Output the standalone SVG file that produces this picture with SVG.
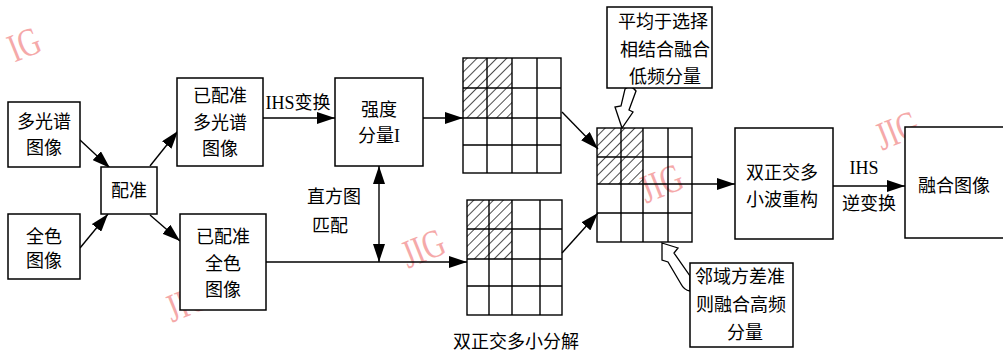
<svg xmlns="http://www.w3.org/2000/svg" width="1003" height="354" viewBox="0 0 1003 354">
<style>
.box{fill:#fff;stroke:#000;stroke-width:1.5}
.ln{fill:none;stroke:#000;stroke-width:1.4}
.t{font-family:"Liberation Serif","Noto Sans CJK SC",serif;font-size:18px;fill:#000;text-anchor:middle;dominant-baseline:central}
.wm{font-family:"Liberation Serif",serif;font-size:40px;fill:#f5a9a9;text-anchor:middle;dominant-baseline:central}
.grid{fill:none;stroke:#000;stroke-width:1.4}
.hollow{fill:#fff;stroke:#000;stroke-width:1.3}
</style>
<defs>
<marker id="ah" viewBox="0 0 18 12" refX="18" refY="6" markerWidth="18" markerHeight="12" markerUnits="userSpaceOnUse" orient="auto-start-reverse">
<path d="M0,0 L18,6 L0,12 Z" fill="#000"/>
</marker>
<pattern id="hatch" patternUnits="userSpaceOnUse" width="7" height="7" patternTransform="rotate(45)">
<line x1="0" y1="0" x2="0" y2="7" stroke="#000" stroke-width="1.4"/>
</pattern>
</defs>
<rect width="1003" height="354" fill="#fff"/>

<g id="watermarks">
<text class="wm" transform="translate(24,44) rotate(-22) scale(0.75,1)">IG</text>
<text class="wm" transform="translate(187,302) rotate(-22) scale(0.75,1)">JIG</text>
<text class="wm" transform="translate(423,248) rotate(-22) scale(0.75,1)">JIG</text>
<text class="wm" transform="translate(661,183) rotate(-22) scale(0.75,1)">JIG</text>
<text class="wm" transform="translate(897,130) rotate(-22) scale(0.75,1)">JIG</text>
</g>

<g id="connectors">
<line class="ln" x1="80" y1="140" x2="110" y2="168" marker-end="url(#ah)"/>
<line class="ln" x1="80" y1="248" x2="108" y2="214" marker-end="url(#ah)"/>
<line class="ln" x1="150" y1="166" x2="178" y2="131" marker-end="url(#ah)"/>
<line class="ln" x1="150" y1="215" x2="180" y2="241" marker-end="url(#ah)"/>
<line class="ln" x1="263" y1="118" x2="335" y2="118" marker-end="url(#ah)"/>
<line class="ln" x1="423" y1="118" x2="463" y2="118" marker-end="url(#ah)"/>
<line class="ln" x1="266" y1="262" x2="467" y2="262" marker-end="url(#ah)"/>
<line class="ln" x1="379" y1="166" x2="379" y2="262" marker-start="url(#ah)" marker-end="url(#ah)"/>
<line class="ln" x1="562" y1="112" x2="598" y2="149" marker-end="url(#ah)"/>
<line class="ln" x1="562" y1="253" x2="598" y2="213" marker-end="url(#ah)"/>
<line class="ln" x1="692" y1="184" x2="735" y2="184" marker-end="url(#ah)"/>
<line class="ln" x1="833" y1="186" x2="905" y2="186" marker-end="url(#ah)"/>
<path class="hollow" d="M625,89 Q631,84 636,91 L629,110 L633,112 L622,128 L615,107 L621,106 Z"/>
<path class="hollow" d="M662,243 L678,248 L674,253 L690,276 L690,291 Q684,290 681,284 L668,262 L662,260 Z"/>
<text class="t" x="298" y="103">IHS变换</text>
<text class="t" x="334" y="197">直方图</text>
<text class="t" x="330" y="226">匹配</text>
<text class="t" x="864" y="168">IHS</text>
<text class="t" x="869" y="204">逆变换</text>
</g>

<g id="n-multispectral">
<rect class="box" x="8" y="102" width="72" height="65"/>
<text class="t" x="44" y="122">多光谱</text>
<text class="t" x="44" y="148">图像</text>
</g>
<g id="n-pan">
<rect class="box" x="8" y="214" width="72" height="65"/>
<text class="t" x="44" y="237">全色</text>
<text class="t" x="44" y="261">图像</text>
</g>
<g id="n-register">
<rect class="box" x="101" y="167" width="56" height="47"/>
<text class="t" x="129" y="191">配准</text>
</g>
<g id="n-reg-ms">
<rect class="box" x="177" y="78" width="86" height="88"/>
<text class="t" x="220" y="96">已配准</text>
<text class="t" x="220" y="123">多光谱</text>
<text class="t" x="220" y="149">图像</text>
</g>
<g id="n-reg-pan">
<rect class="box" x="180" y="214" width="86" height="96"/>
<text class="t" x="223" y="237">已配准</text>
<text class="t" x="223" y="264">全色</text>
<text class="t" x="223" y="290">图像</text>
</g>
<g id="n-intensity">
<rect class="box" x="335" y="78" width="88" height="88"/>
<text class="t" x="379" y="110">强度</text>
<text class="t" x="379" y="136">分量I</text>
</g>

<g id="n-grid1">
<rect x="463" y="58" width="49" height="60" fill="url(#hatch)"/>
<rect class="grid" x="463" y="58" width="98" height="115"/>
<path class="grid" d="M487,58V173M512,58V173M537,58V173M463,88H561M463,118H561M463,145H561"/>
</g>
<g id="n-grid2">
<rect x="467" y="200" width="45" height="59" fill="url(#hatch)"/>
<rect class="grid" x="467" y="200" width="95" height="115"/>
<path class="grid" d="M489,200V315M512,200V315M540,200V315M467,229H562M467,259H562M467,286H562"/>
</g>
<text class="t" x="516" y="342">双正交多小分解</text>
<g id="n-grid3">
<rect x="597" y="128" width="46" height="56" fill="url(#hatch)"/>
<rect class="grid" x="597" y="128" width="95" height="114"/>
<path class="grid" d="M621,128V242M643,128V242M668,128V242M597,157H692M597,184H692M597,213H692"/>
</g>

<g id="n-lowfreq">
<rect class="box" x="607" y="7" width="105" height="81"/>
<text class="t" x="663" y="22">平均于选择</text>
<text class="t" x="665" y="50">相结合融合</text>
<text class="t" x="665" y="77">低频分量</text>
</g>
<g id="n-highfreq">
<rect class="box" x="690" y="263" width="103" height="84"/>
<text class="t" x="740" y="277">邻域方差准</text>
<text class="t" x="741" y="305">则融合高频</text>
<text class="t" x="745" y="333">分量</text>
</g>
<g id="n-recon">
<rect class="box" x="735" y="128" width="98" height="111"/>
<text class="t" x="782" y="173">双正交多</text>
<text class="t" x="782" y="200">小波重构</text>
</g>
<g id="n-fused">
<rect class="box" x="905" y="127" width="110" height="111"/>
<text class="t" x="954" y="186">融合图像</text>
</g>
</svg>
